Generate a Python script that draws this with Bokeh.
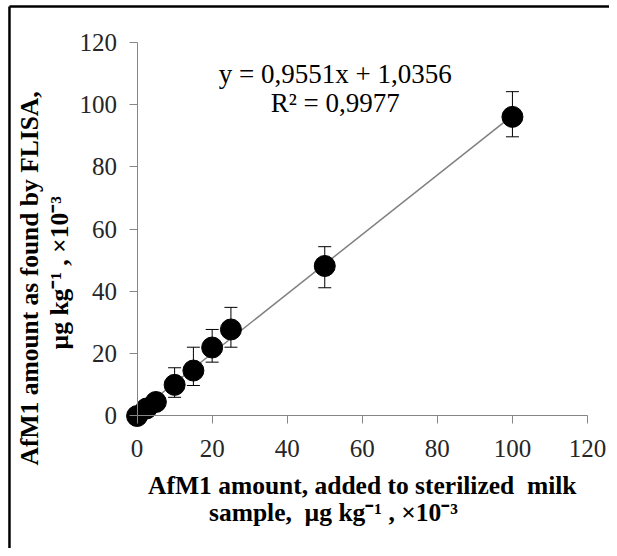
from bokeh.plotting import figure
from bokeh.models import Range1d, FixedTicker, Label, Whisker, TeeHead, ColumnDataSource
from bokeh.embed import file_html
from bokeh.resources import INLINE

# data
added = [0, 2.5, 5, 10, 15, 20, 25, 50, 100]
found = [0, 2.4, 4.5, 10, 14.6, 22, 27.8, 48.2, 96.1]
err_low = [0, 2.4, 4.5, 6.0, 9.8, 17.3, 22.1, 41.2, 89.7]
err_high = [0, 2.4, 4.5, 15.5, 22.1, 27.8, 34.9, 54.4, 104.2]
slope = 0.9551
intercept = 1.0356
r2 = 0.9977
x_ticks = [0, 20, 40, 60, 80, 100, 120]
y_ticks = [0, 20, 40, 60, 80, 100, 120]

X0, X1 = -36.39, 125.86
Y0, Y1 = -42.57, 133.49

p = figure(width=609, height=548, output_backend="svg", toolbar_location=None,
           x_range=Range1d(X0, X1), y_range=Range1d(Y0, Y1),
           min_border_left=0, min_border_right=0, min_border_top=0, min_border_bottom=0)
p.outline_line_color = None
p.grid.visible = False
p.background_fill_color = "white"
p.border_fill_color = "white"

for ax, ticks in ((p.xaxis, x_ticks), (p.yaxis, y_ticks)):
    ax.ticker = FixedTicker(ticks=ticks)
    ax.fixed_location = 0
    ax.bounds = (0, 120)
    ax.axis_line_color = "#868686"
    ax.major_tick_line_color = "#868686"
    ax.major_tick_in = 0
    ax.major_tick_out = 8
    ax.minor_tick_line_color = None
    ax.major_label_text_font = "Liberation Serif"
    ax.major_label_text_font_size = "25px"
    ax.major_label_text_color = "#262626"
p.xaxis.major_label_standoff = 16
p.yaxis.major_label_standoff = 12

# chart border (top and left)
BX = -34.0
BY = 131.57
p.line([BX, BX], [Y0, BY], line_color="black", line_width=2.5)
p.line([BX, X1], [BY, BY], line_color="black", line_width=2.5)

# regression line
xl = [min(added), max(added)]
yl = [slope * v + intercept for v in xl]
p.line(xl, yl, line_color="#808080", line_width=1.5)

src = ColumnDataSource(dict(x=added, y=found, lo=err_low, hi=err_high))
p.add_layout(Whisker(source=src, base="x", lower="lo", upper="hi", dimension="height",
                     line_color="black", line_width=1,
                     upper_head=TeeHead(size=13, line_color="black", line_width=1),
                     lower_head=TeeHead(size=13, line_color="black", line_width=1)))
p.scatter("x", "y", source=src, size=21, marker="circle", fill_color="black", line_color="black")

eq1 = "y = " + f"{slope:.4f}".replace(".", ",") + "x + " + f"{intercept:.4f}".replace(".", ",")
eq2 = "R² = " + f"{r2:.4f}".replace(".", ",")
for txt, yy in ((eq1, 109.9), (eq2, 100.6)):
    p.add_layout(Label(x=52.8, y=yy, text=txt, text_align="center", text_baseline="alphabetic",
                       text_font="Liberation Serif", text_font_size="27px", text_color="black"))

# axis titles
NB = "\u00a0"
xt1 = "AfM1 amount, added to sterilized" + NB + " milk"
xt2 = "sample," + NB + " µg kg⁻¹ , ×10⁻³"
yt1 = "AfM1 amount as found by FLISA,"
yt2 = "µg kg⁻¹ , ×10⁻³"
bold = dict(text_align="center", text_baseline="alphabetic", text_font="Liberation Serif",
            text_font_style="bold", text_font_size="25.5px", text_color="black")
p.add_layout(Label(x=60.0, y=-22.3, text=xt1, **bold))
p.add_layout(Label(x=52.3, y=-30.9, text=xt2, **bold))
p.add_layout(Label(x=-28.6, y=44.2, text=yt1, angle=1.5708, **bold))
p.add_layout(Label(x=-20.6, y=46.0, text=yt2, angle=1.5708, **bold))

open("out.html", "w").write(file_html(p, INLINE))
